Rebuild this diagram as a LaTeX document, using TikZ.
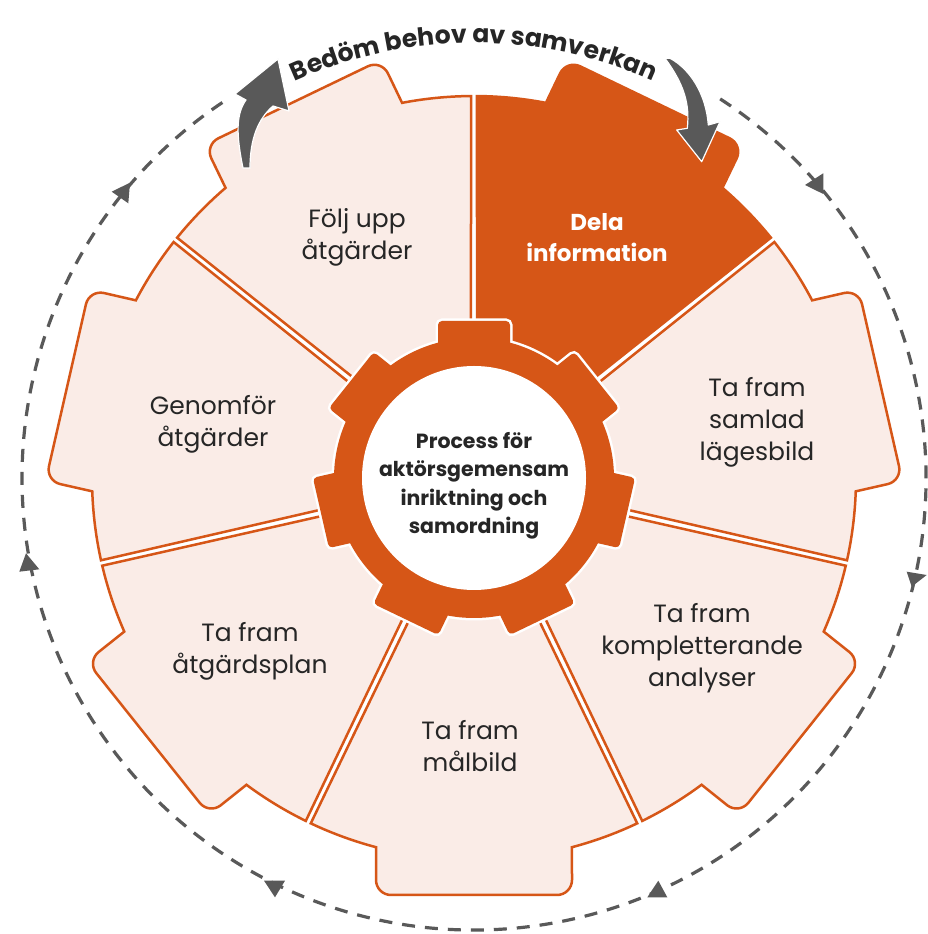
\documentclass[tikz,border=0pt]{standalone}
\usepackage{fontspec}
\setmainfont{Poppins}
\usetikzlibrary{decorations.text}
\definecolor{org}{HTML}{D65617}
\definecolor{pnk}{HTML}{FAECE7}
\definecolor{agray}{HTML}{595959}
\definecolor{txt}{HTML}{262626}
\newcommand\segfont{\fontsize{25}{32}\selectfont}
\newcommand\segment[2]{%
  \begin{scope}[shift={(C)}, rotate=#1]
    \filldraw[fill=#2, draw=org, line width=2.5, line join=miter]
      (0:8) -- (-25.30:382) arc[start angle=-25.30, end angle=-14.86, radius=382]
      -- (402,-98) arc[start angle=-90, end angle=0, radius=15]
      -- (417,83) arc[start angle=0, end angle=90, radius=15]
      -- (14.86:382) arc[start angle=14.86, end angle=25.30, radius=382] -- cycle;
  \end{scope}}
\newcommand\gtooth[1]{%
  (C) ++(#1:125) ++(#1-90:36) -- ++(#1:28) arc[start angle=#1-90, end angle=#1, radius=4]
  -- ++(#1+90:64) arc[start angle=#1, end angle=#1+90, radius=4] -- ++(#1+180:28) -- cycle}
\tikzset{
  segtext/.style={align=center, text=txt, font=\segfont},
  tri/.style={fill=agray},
  bigarrow/.style={fill=agray, draw=white, line width=1.2, line join=round}
}
\begin{document}
\begin{tikzpicture}[x=1pt,y=1pt]
\useasboundingbox (0,0) rectangle (927,934);
\fill[white] (0,0) rectangle (927,934);
\coordinate (C) at (474,456);

% dashed ring
\draw[agray, line width=3.2, dash pattern=on 13 off 10] (C) ++(57:452) arc[start angle=57, end angle=-237, radius=452];
\fill[tri] (111.7,742.3) -- (130,751.3) -- (128.3,730.7) -- cycle;
\fill[tri] (26,380.7) -- (19.3,362.3) -- (39.3,364.7) -- cycle;
\fill[tri] (275,36.7) -- (264,53.3) -- (285,53.3) -- cycle;
\fill[tri] (658.3,53.3) -- (647.3,36.7) -- (667.3,36.7) -- cycle;
\fill[tri] (906.7,362.3) -- (926.7,359) -- (911.7,347.3) -- cycle;
\fill[tri] (805,749) -- (823.3,760.7) -- (823.3,740) -- cycle;

% segments
\segment{64.286}{org}
\segment{12.857}{pnk}
\segment{-38.571}{pnk}
\segment{-90}{pnk}
\segment{-141.429}{pnk}
\segment{167.143}{pnk}
\segment{115.714}{pnk}

% central gear
\foreach \a in {90,38.571,-12.857,-64.286,-115.714,-167.143,141.429}{
  \filldraw[white, line width=5] \gtooth{\a};
}
\filldraw[white, line width=5] (C) circle[radius=140];
\foreach \a in {90,38.571,-12.857,-64.286,-115.714,-167.143,141.429}{
  \fill[org] \gtooth{\a};
}
\fill[org] (C) circle[radius=140];
\fill[white] (C) circle[radius=112];
\node[align=center, text=txt, font=\bfseries\fontsize{20.5}{28.5}\selectfont] (center) at (474,448)
  {Process för\\aktörsgemensam\\inriktning och\\samordning};

% segment labels
\node[segtext] (s1) at (357,697) {Följ upp\\åtgärder};
\node[align=center, text=white, font=\bfseries\fontsize{23}{31}\selectfont] (s2) at (597,696) {Dela\\information};
\node[segtext] (s3) at (757,512) {Ta fram\\samlad\\lägesbild};
\node[segtext] (s4) at (702,286) {Ta fram\\kompletterande\\analyser};
\node[segtext] (s5) at (470,188) {Ta fram\\målbild};
\node[segtext] (s6) at (250,283) {Ta fram\\åtgärdsplan};
\node[segtext] (s7) at (213,510) {Genomför\\åtgärder};

% curved arrows
\filldraw[bigarrow] (243,766)
  .. controls (236,800) and (236,820) .. (246,834)
  -- (235,840) -- (278,875) -- (289,823) -- (273,828)
  .. controls (258,815) and (250,795) .. (250,766) -- cycle;
\filldraw[bigarrow] (665,875.7)
  .. controls (684,850) and (690,830) .. (687.3,805.7)
  -- (676.7,804) -- (701.7,772.3) -- (720,812.3) -- (708.3,809)
  .. controls (706,840) and (690,865) .. (670,875.7) -- cycle;

% title
\path[decorate, decoration={text along path, text align=center, text color=txt,
  text={|\bfseries\fontsize{25}{30}\selectfont|Bedöm behov av samverkan}}]
  (C) ++(120:435) arc[start angle=120, end angle=60, radius=435];
\end{tikzpicture}
\end{document}
